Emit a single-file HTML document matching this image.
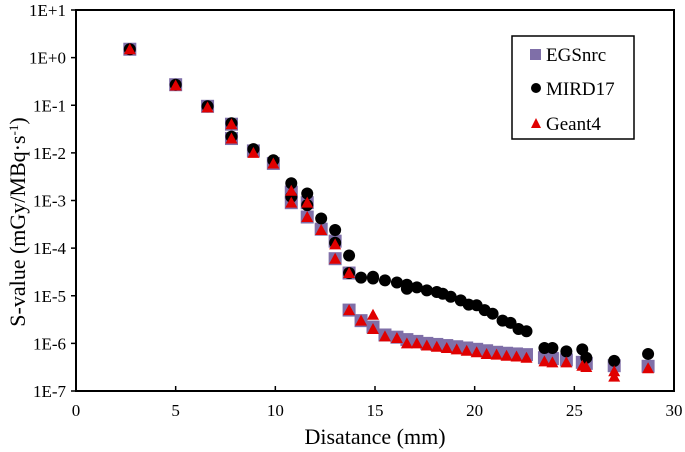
<!DOCTYPE html>
<html><head><meta charset="utf-8"><style>
body{margin:0;background:#fff;}
svg{display:block;font-family:"Liberation Serif",serif;}
</style></head><body>
<svg id="chart" width="685" height="452" viewBox="0 0 685 452" xmlns="http://www.w3.org/2000/svg">
<g id="marks"></g>
<rect x="76" y="10" width="598" height="381" fill="none" stroke="#000" stroke-width="2"/>
<g id="axes"></g>
<text x="375" y="444" font-size="22" text-anchor="middle">Disatance (mm)</text>
<text transform="translate(25,222) rotate(-90)" font-size="22" text-anchor="middle">S-value (mGy/MBq·s<tspan dy="-7" font-size="13">-1</tspan><tspan dy="7">)</tspan></text>
<g>
<rect x="512" y="36" width="122" height="103" fill="#fff" stroke="#000" stroke-width="1.5"/>
<rect x="530" y="49" width="11" height="11" fill="#7f6fa8"/>
<text x="546" y="61" font-size="19">EGSnrc</text>
<circle cx="536" cy="88" r="5" fill="#000"/>
<text x="546" y="95" font-size="19">MIRD17</text>
<polygon points="531,128 536,118 541,128" fill="#e00000"/>
<text x="546" y="130" font-size="19">Geant4</text>
</g>
</svg>
<script>
const xTicks=[0,5,10,15,20,25,30];
const yTickExp=[1,0,-1,-2,-3,-4,-5,-6,-7];
const yTickLabels=["1E+1","1E+0","1E-1","1E-2","1E-3","1E-4","1E-5","1E-6","1E-7"];
const egsX=[2.7,5,6.6,7.8,7.8,8.9,9.9,10.8,10.8,11.6,11.6,12.3,13,13,13.7,13.7,14.3,14.9,15.5,16.1,16.6,17.1,17.6,18.1,18.6,19.1,19.6,20.1,20.6,21.1,21.6,22.1,22.6,23.5,23.9,24.6,25.4,25.6,27,28.7];
const egsY=[1.5,0.27,0.095,0.04,0.02,0.011,0.006,1.5e-3,0.9e-3,0.9e-3,0.45e-3,2.5e-4,1.4e-4,6e-5,3e-5,5e-6,3e-6,2.2e-6,1.5e-6,1.35e-6,1.2e-6,1.1e-6,1e-6,9.5e-7,9e-7,8.5e-7,8e-7,7.5e-7,7e-7,6.5e-7,6.2e-7,6e-7,5.8e-7,5e-7,4.8e-7,4.5e-7,4e-7,3.8e-7,3.4e-7,3.3e-7];
const mirdX=[2.7,5,6.6,7.8,7.8,8.9,9.9,10.8,10.8,11.6,11.6,12.3,13,13,13.7,13.7,14.3,14.9,14.9,15.5,16.1,16.6,16.6,17.1,17.6,18.1,18.4,18.8,19.3,19.7,20.1,20.5,20.9,21.4,21.8,22.2,22.6,23.5,23.9,24.6,25.4,25.6,27,28.7];
const mirdY=[1.5,0.27,0.095,0.042,0.022,0.012,0.007,2.3e-3,1.2e-3,1.4e-3,0.8e-3,4.2e-4,2.4e-4,1.3e-4,7e-5,3e-5,2.4e-5,2.5e-5,2.3e-5,2.1e-5,1.9e-5,1.7e-5,1.4e-5,1.5e-5,1.3e-5,1.2e-5,1.1e-5,9.5e-6,8e-6,6.5e-6,6.3e-6,5e-6,4.2e-6,3e-6,2.7e-6,2e-6,1.8e-6,8e-7,8e-7,6.8e-7,7.5e-7,5e-7,4.3e-7,6e-7];
const g4X=[2.7,5,6.6,7.8,7.8,8.9,9.9,10.8,10.8,11.6,11.6,12.3,13,13,13.7,13.7,14.3,14.9,14.9,15.5,16.1,16.6,17.1,17.6,18.1,18.6,19.1,19.6,20.1,20.6,21.1,21.6,22.1,22.6,23.5,23.9,24.6,25.4,25.6,27,27,28.7];
const g4Y=[1.5,0.26,0.09,0.04,0.02,0.01,0.006,1.6e-3,0.9e-3,0.9e-3,0.45e-3,2.4e-4,1.2e-4,6e-5,3e-5,5e-6,3e-6,4e-6,2e-6,1.4e-6,1.3e-6,1e-6,1e-6,9e-7,8.5e-7,8e-7,7.5e-7,7e-7,6.5e-7,6e-7,5.8e-7,5.5e-7,5.3e-7,5e-7,4.2e-7,4e-7,4e-7,3.4e-7,3.2e-7,2.6e-7,2e-7,3e-7];

const NS='http://www.w3.org/2000/svg';
const X0=76,X1=674,Y0=391,Y1=10;
function sx(v){return X0+(v-0)/30*(X1-X0);}
function sy(v){return Y0-(Math.log10(v)+7)/8*(Y0-Y1);}
function mk(tag,attrs,parent){const e=document.createElementNS(NS,tag);for(const k in attrs)e.setAttribute(k,attrs[k]);parent.appendChild(e);return e;}
const axes=document.getElementById('axes');
const marks=document.getElementById('marks');
xTicks.forEach(t=>{
  const l=mk('line',{x1:sx(t),x2:sx(t),y1:Y0,y2:Y0-5,stroke:'#000','stroke-width':1.5},axes);
  
  
  const tx=mk('text',{x:sx(t),y:416,'font-size':17,'text-anchor':'middle'},axes);
  tx.textContent=t;
  
  
});
yTickExp.forEach((e,i)=>{
  const y=sy(Math.pow(10,e));
  const l=mk('line',{x1:X0-5,x2:X0,y1:y,y2:y,stroke:'#000','stroke-width':1.5},axes);
  
  
  const tx=mk('text',{x:66,y:y+6,'font-size':17,'text-anchor':'end'},axes);
  tx.textContent=yTickLabels[i];
  
  
});
egsX.forEach((x,i)=>{
  const r=mk('rect',{x:sx(x)-6.5,y:sy(egsY[i])-6.5,width:13,height:13,fill:'#7f6fa8'},marks);
  
  
});
mirdX.forEach((x,i)=>{
  const c=mk('circle',{cx:sx(x),cy:sy(mirdY[i]),r:6,fill:'#000'},marks);
  
  
});
g4X.forEach((x,i)=>{
  const px=sx(x),py=sy(g4Y[i]);
  const p=mk('polygon',{points:`${px-6},${py+5} ${px},${py-6} ${px+6},${py+5}`,fill:'#e00000'},marks);
  
  
});
</script>
</body></html>
